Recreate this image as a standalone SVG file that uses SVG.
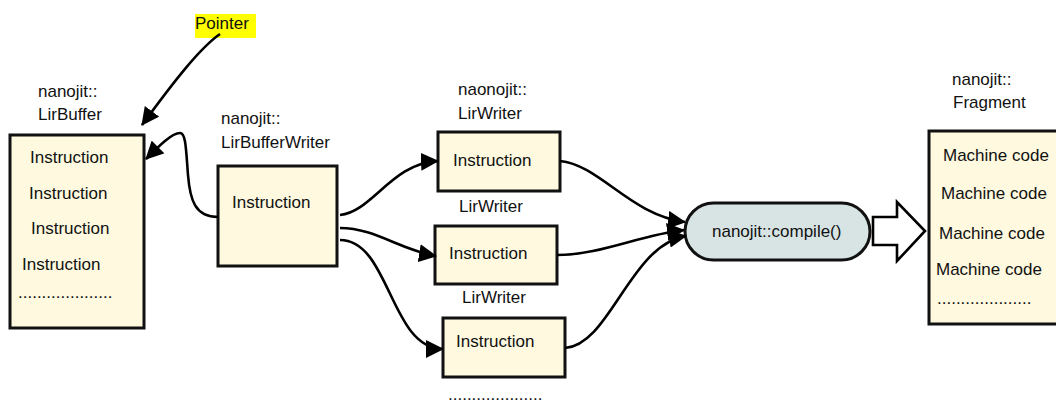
<svg xmlns="http://www.w3.org/2000/svg" width="1056" height="403" viewBox="0 0 1056 403">
<style>
text{font-family:"Liberation Sans",Arial,sans-serif;font-size:17px;fill:#111}
.box{fill:#fef9df;stroke:#111;stroke-width:3}
.pill{fill:#d8e4e4;stroke:#111;stroke-width:3}
.con{fill:none;stroke:#000;stroke-width:2.6;marker-end:url(#ah)}
</style>
<defs>
<marker id="ah" markerUnits="userSpaceOnUse" markerWidth="18" markerHeight="18" viewBox="0 0 18 18" refX="17" refY="9" orient="auto">
<path d="M0,0 L18,9 L0,18 z" fill="#000"/>
</marker>
</defs>
<rect width="1056" height="403" fill="#fff"/>

<g id="pointer">
<rect x="195" y="14" width="61" height="24" fill="#ffff00"/>
<text x="195" y="29">Pointer</text>
</g>

<g id="lirbuffer">
<text x="38" y="97">nanojit::</text>
<text x="38" y="120">LirBuffer</text>
<rect class="box" x="10" y="135" width="134" height="193"/>
<text x="30" y="163">Instruction</text>
<text x="29" y="199">Instruction</text>
<text x="31" y="234">Instruction</text>
<text x="22" y="270">Instruction</text>
<text x="18" y="298">....................</text>
</g>

<g id="lirbufferwriter">
<text x="221" y="124">nanojit::</text>
<text x="221" y="148">LirBufferWriter</text>
<rect class="box" x="218" y="166" width="119" height="100"/>
<text x="232" y="208">Instruction</text>
</g>

<g id="lirwriter1">
<text x="458" y="95">naonojit::</text>
<text x="458" y="119">LirWriter</text>
<rect class="box" x="438" y="132" width="122" height="59"/>
<text x="453" y="166">Instruction</text>
</g>

<g id="lirwriter2">
<text x="459" y="212">LirWriter</text>
<rect class="box" x="435" y="226" width="122" height="58"/>
<text x="449" y="259">Instruction</text>
</g>

<g id="lirwriter3">
<text x="462" y="303">LirWriter</text>
<rect class="box" x="443" y="318" width="122" height="59"/>
<text x="456" y="347">Instruction</text>
<text x="448" y="400">....................</text>
</g>

<g id="compile">
<rect class="pill" x="685" y="203" width="185" height="57" rx="28.5"/>
<text x="712" y="237">nanojit::compile()</text>
</g>

<g id="fragment">
<text x="952" y="85">nanojit::</text>
<text x="953" y="108">Fragment</text>
<rect class="box" x="929" y="131" width="140" height="193"/>
<text x="943" y="161">Machine code</text>
<text x="941" y="199">Machine code</text>
<text x="939" y="239">Machine code</text>
<text x="936" y="275">Machine code</text>
<text x="937" y="304">....................</text>
</g>

<g id="connectors">
<path class="con" d="M220,34 C200,48 175,80 142,125"/>
<path class="con" d="M218,217 C195,217 190,200 188,175 C186,150 186,133 180,133 C172,133 160,145 146,159"/>
<path class="con" d="M340,215 C372,212 392,163 438,161"/>
<path class="con" d="M340,228 C375,228 400,250 436,256"/>
<path class="con" d="M340,240 C390,240 390,349 443,349"/>
<path class="con" d="M560,161 C600,165 630,215 685,222"/>
<path class="con" d="M557,255 C600,255 640,235 684,230"/>
<path class="con" d="M565,348 C610,345 630,245 686,236"/>
<polygon points="873,217 897,217 897,202 925,231 897,261 897,245 873,245" fill="#fff" stroke="#000" stroke-width="2.6"/>
</g>
</svg>
